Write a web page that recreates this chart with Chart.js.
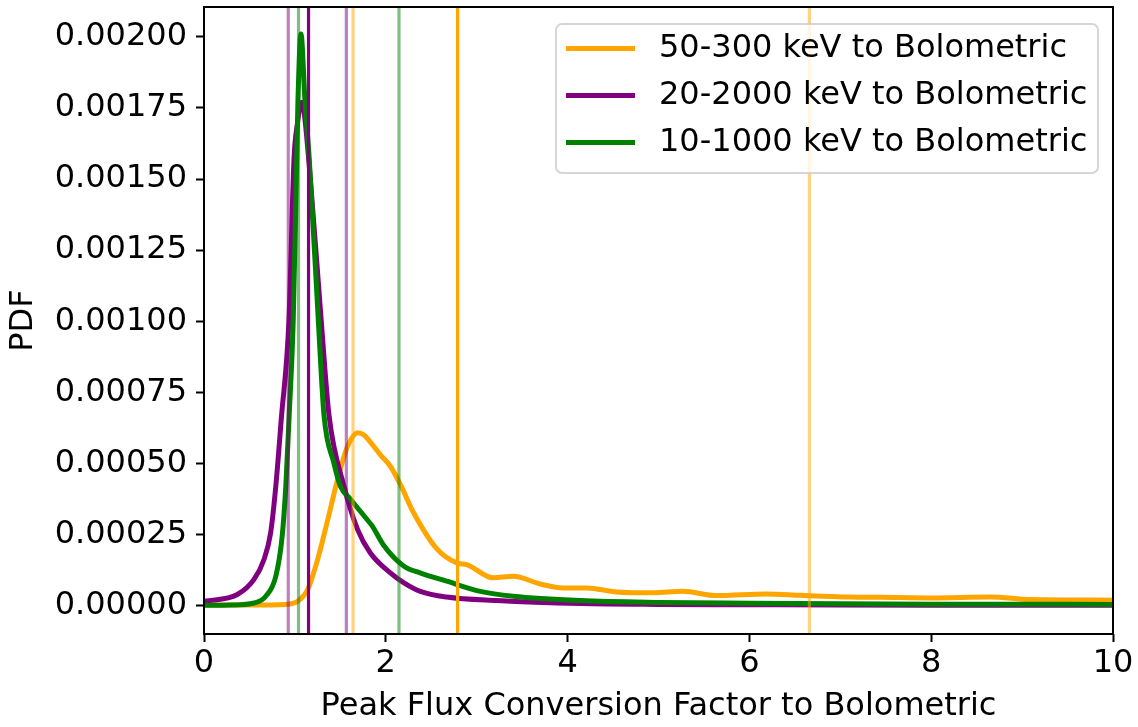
<!DOCTYPE html>
<html>
<head>
<meta charset="utf-8">
<title>Peak flux conversion factor PDF</title>
<script src="https://cdn.jsdelivr.net/npm/chart.js@4.4.0/dist/chart.umd.min.js"></script>
<style>
  html, body { margin: 0; padding: 0; background: #fff; }
</style>
</head>
<body>
<canvas id="pdf-chart" width="1138" height="727"></canvas>
<script>
// 50-300 keV -> bolometric
const orangeX = [0, 0.5, 0.9, 1.03, 1.14, 1.25, 1.36, 1.47, 1.58, 1.69, 1.76, 1.83, 1.94, 2.05, 2.16, 2.3, 2.56, 2.78, 2.89, 3.18, 3.40, 3.70, 3.95, 4.21, 4.54, 4.94, 5.27, 5.64, 6.19, 6.56, 7.10, 7.44, 8.00, 8.65, 9.09, 10.0];
const orangeY = [0.000002, 0.000002, 0.000004, 0.000015, 0.000056, 0.000162, 0.0003, 0.000444, 0.00056, 0.000608, 0.0006, 0.000575, 0.00053, 0.00049, 0.000426, 0.00033, 0.0002, 0.00015, 0.000144, 0.0000975, 0.000103, 0.000076, 0.000062, 0.000062, 0.000048, 0.000045, 0.00005, 0.000035, 0.000041, 0.000036, 0.00003, 0.000029, 0.000027, 0.00003, 0.000021, 0.000019];

// 20-2000 keV -> bolometric
const purpleX = [0, 0.367, 0.55, 0.66, 0.733, 0.79, 0.85, 0.935, 0.99, 1.03, 1.06, 1.08, 1.10, 1.17, 1.29, 1.375, 1.54, 1.69, 1.83, 2.05, 2.2, 2.38, 2.67, 3.22, 4.14, 5, 6, 7, 8, 10];
const purpleY = [0.000015, 0.000039, 0.000092, 0.000162, 0.000256, 0.00042, 0.000655, 0.001007, 0.00157, 0.0017, 0.00176, 0.00177, 0.00174, 0.0015, 0.001, 0.00067, 0.00042, 0.000267, 0.000185, 0.000115, 0.00008, 0.00005, 0.00003, 0.0000176, 0.000007, 0.000004, 0.000003, 0.000002, 0.0000015, 0.000001];

// 10-1000 keV -> bolometric
const greenX = [0, 0.3, 0.55, 0.68, 0.79, 0.86, 0.9, 0.935, 0.982, 1.02, 1.034, 1.067, 1.11, 1.158, 1.257, 1.32, 1.43, 1.5, 1.61, 1.8, 1.85, 1.98, 2.2, 2.376, 2.67, 3.04, 3.40, 4.14, 5, 6, 7, 8, 9, 10];
const greenY = [0.000001, 0.000002, 0.000009, 0.000033, 0.000103, 0.000244, 0.00042, 0.000655, 0.001007, 0.00157, 0.00178, 0.00201, 0.00178, 0.00157, 0.001007, 0.00067, 0.0005, 0.00042, 0.000375, 0.0003, 0.00028, 0.00021, 0.000138, 0.000115, 0.0000856, 0.00005, 0.000033, 0.0000176, 0.000011, 0.000008, 0.000006, 0.000005, 0.0000045, 0.000004];

// median (solid) and interval bounds (faded) for each conversion
const orangeMedian = [2.79];
const orangeBounds = [1.64, 6.66];
const purpleMedian = [1.15];
const purpleBounds = [0.927, 1.566];
const greenBounds = [1.04, 2.145];

const xTicks = [0, 2, 4, 6, 8, 10];
const yTicks = [0, 0.00025, 0.0005, 0.00075, 0.001, 0.00125, 0.0015, 0.00175, 0.002];
const X_MIN = 0, X_MAX = 10, Y_MIN = -0.0001, Y_MAX = 0.002105;

const ORANGE = 'rgb(255,165,0)', ORANGE_A = 'rgba(255,165,0,0.5)';
const PURPLE = 'rgb(128,0,128)', PURPLE_A = 'rgba(128,0,128,0.5)';
const GREEN = 'rgb(0,128,0)', GREEN_A = 'rgba(0,128,0,0.5)';
const FONT = 32;

Chart.defaults.font.family = 'DejaVu Sans';
Chart.defaults.font.size = FONT;
Chart.defaults.color = '#000';

function curve(label, xs, ys, color, order) {
    return {
        label: label,
        data: xs.map((x, i) => ({ x: x, y: ys[i] })),
        borderColor: color,
        borderWidth: 5,
        pointRadius: 0,
        cubicInterpolationMode: 'monotone',
        order: order,
        isCurve: true
    };
}

function vlines(values, color) {
    return values.map(v => ({
        data: [{ x: v, y: Y_MIN }, { x: v, y: Y_MAX }],
        borderColor: color,
        borderWidth: 3.2,
        pointRadius: 0,
        order: 0
    }));
}

// black box around the plotting area
const frame = {
    id: 'frame',
    afterDraw(chart) {
        const { ctx, chartArea: a } = chart;
        ctx.save();
        ctx.strokeStyle = '#000';
        ctx.lineWidth = 2;
        ctx.strokeRect(a.left, a.top, a.right - a.left, a.bottom - a.top);
        ctx.restore();
    }
};

// legend box in the upper right corner
const innerLegend = {
    id: 'innerLegend',
    afterDraw(chart) {
        const { ctx, chartArea: a } = chart;
        const items = chart.data.datasets.filter(d => d.isCurve);
        const boxW = 542, boxH = 149;
        const bx = a.right - 15 - boxW, by = a.top + 17;
        ctx.save();
        ctx.beginPath();
        ctx.roundRect(bx, by, boxW, boxH, 6);
        ctx.fillStyle = 'rgba(255,255,255,0.8)';
        ctx.fill();
        ctx.strokeStyle = 'rgba(204,204,204,0.8)';
        ctx.lineWidth = 2;
        ctx.stroke();
        ctx.font = FONT + 'px "DejaVu Sans"';
        ctx.textBaseline = 'middle';
        ctx.fillStyle = '#000';
        items.forEach((d, i) => {
            const cy = by + 24.5 + i * 47;
            ctx.beginPath();
            ctx.moveTo(bx + 10, cy);
            ctx.lineTo(bx + 79, cy);
            ctx.strokeStyle = d.borderColor;
            ctx.lineWidth = 5;
            ctx.stroke();
            ctx.fillText(d.label, bx + 103, cy);
        });
        ctx.restore();
    }
};

const tickGrid = {
    drawOnChartArea: false,
    drawTicks: true,
    tickLength: 8,
    tickWidth: 2,
    tickColor: '#000'
};

// fixed axis boxes so the plotting area sits where the layout needs it
function fitX(s) {
    s.height = 93;
    s.paddingLeft = 0;
    s.paddingRight = 0;
}
function fitY(s) {
    s.width = 204;
    s.paddingTop = 0;
    s.paddingBottom = 0;
}

new Chart(document.getElementById('pdf-chart').getContext('2d'), {
    type: 'line',
    data: {
        datasets: [
            curve('50-300 keV to Bolometric', orangeX, orangeY, ORANGE, 3),
            curve('20-2000 keV to Bolometric', purpleX, purpleY, PURPLE, 2),
            curve('10-1000 keV to Bolometric', greenX, greenY, GREEN, 1),
            ...vlines(orangeMedian, ORANGE),
            ...vlines(orangeBounds, ORANGE_A),
            ...vlines(purpleMedian, PURPLE),
            ...vlines(purpleBounds, PURPLE_A),
            ...vlines(greenBounds, GREEN_A)
        ]
    },
    options: {
        responsive: false,
        animation: false,
        layout: { padding: { top: 7, right: 25, left: 0, bottom: 0 } },
        plugins: {
            legend: { display: false },
            tooltip: { enabled: false }
        },
        scales: {
            x: {
                type: 'linear',
                min: X_MIN,
                max: X_MAX,
                afterFit: fitX,
                afterBuildTicks: s => { s.ticks = xTicks.map(v => ({ value: v })); },
                ticks: { padding: 2, maxRotation: 0, callback: v => String(v) },
                grid: tickGrid,
                border: { display: false },
                title: {
                    display: true,
                    text: 'Peak Flux Conversion Factor to Bolometric',
                    padding: { top: 0, bottom: 1 }
                }
            },
            y: {
                type: 'linear',
                min: Y_MIN,
                max: Y_MAX,
                afterFit: fitY,
                afterBuildTicks: s => { s.ticks = yTicks.map(v => ({ value: v })); },
                ticks: { padding: 9, callback: v => v.toFixed(5) },
                grid: tickGrid,
                border: { display: false },
                title: {
                    display: true,
                    text: 'PDF',
                    padding: { top: 4.5, bottom: 0 }
                }
            }
        }
    },
    plugins: [frame, innerLegend]
});
</script>
</body>
</html>
